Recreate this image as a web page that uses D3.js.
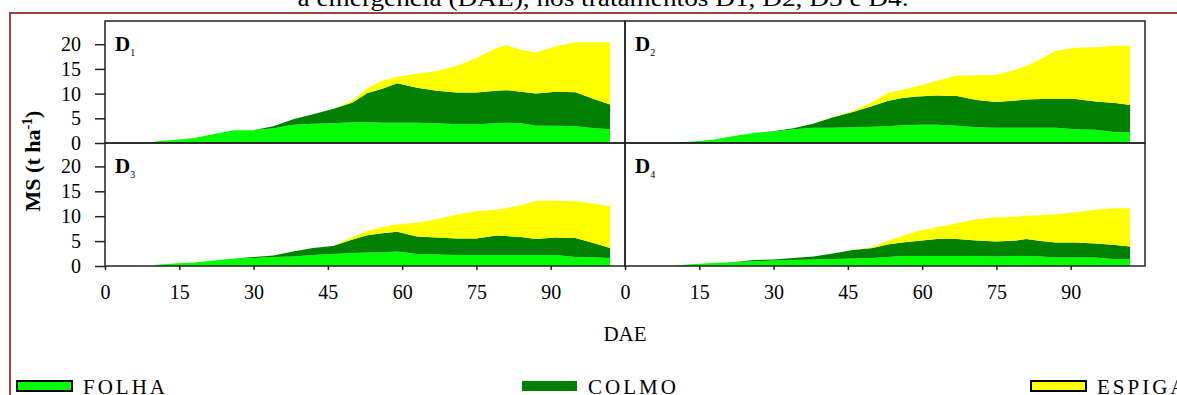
<!DOCTYPE html>
<html>
<head>
<meta charset="utf-8">
<script src="https://cdn.jsdelivr.net/npm/d3@7"></script>
<style>
  body { margin: 0; background: #fff; }
  svg { display: block; }
</style>
</head>
<body>
<div id="chart"></div>
<script>
// days after emergence (DAE) at which the curves were read
const dae = [10, 14, 18, 22, 26, 30, 34, 38, 42, 46, 50, 53, 56, 59, 63, 67, 71, 75, 79, 81, 84, 87, 91, 95, 99, 102];

// dry matter, t/ha, per plant part
const folhaD1  = [0.3,0.6,1.0,1.8,2.6,2.6,3.0,3.7,3.9,4.0,4.2,4.2,4.1,4.1,4.1,4.0,3.8,3.8,4.0,4.1,4.0,3.5,3.5,3.4,3.0,2.8];
const colmoD1  = [0,0,0,0,0,0,0.4,1.1,1.9,2.9,4.0,5.9,6.9,8.0,7.1,6.6,6.4,6.4,6.6,6.6,6.4,6.5,6.9,6.9,5.8,5.0];
const espigaD1 = [0,0,0,0,0,0,0,0,0,0,0.4,1.0,1.6,1.3,2.8,4.0,5.4,7.0,8.6,9.1,8.5,8.3,9.2,10.1,11.6,12.6];

const folhaD2  = [0.1,0.3,0.7,1.4,2.0,2.3,2.8,3.1,3.1,3.2,3.3,3.4,3.6,3.7,3.7,3.5,3.2,3.1,3.1,3.1,3.1,3.1,2.8,2.7,2.2,2.2];
const colmoD2  = [0,0,0,0,0,0.1,0.2,0.8,2.1,3.1,4.2,5.1,5.5,5.7,5.9,6.0,5.5,5.2,5.5,5.7,5.8,5.8,6.1,5.7,5.9,5.5];
const espigaD2 = [0,0,0,0,0,0,0,0,0.1,0.2,0.8,1.6,1.7,2.1,3.0,4.1,5.0,5.5,6.3,6.8,8.1,9.8,10.4,11.0,11.6,12.0];

const folhaD3  = [0.2,0.5,0.7,1.1,1.5,1.6,1.8,1.9,2.2,2.4,2.6,2.7,2.7,2.9,2.4,2.3,2.2,2.2,2.2,2.2,2.2,2.2,2.2,1.8,1.7,1.6];
const colmoD3  = [0,0,0,0,0,0.2,0.3,1.0,1.4,1.6,2.7,3.5,3.9,4.0,3.5,3.4,3.3,3.3,3.9,3.8,3.6,3.2,3.5,3.8,2.8,2.0];
const espigaD3 = [0,0,0,0,0,0,0,0,0,0,0.5,0.9,1.2,1.5,2.8,3.7,4.8,5.5,5.2,5.6,6.4,7.7,7.4,7.4,8.0,8.4];

const folhaD4  = [0.1,0.4,0.6,0.8,0.95,1.1,1.2,1.3,1.4,1.5,1.6,1.8,2.0,2.0,2.0,2.0,2.0,1.9,2.0,2.0,1.9,1.7,1.7,1.7,1.35,1.35];
const colmoD4  = [0,0,0,0,0.25,0.2,0.4,0.6,1.1,1.7,2.0,2.5,2.7,3.0,3.4,3.4,3.1,3.0,3.1,3.4,3.1,3.0,3.0,2.8,2.85,2.55];
const espigaD4 = [0,0,0,0,0,0,0,0,0,0,0.2,0.7,1.3,2.0,2.4,3.2,4.3,4.9,4.8,4.7,5.2,5.7,6.1,6.8,7.4,7.7];

const partKeys = ["folha", "colmo", "espiga"];
const partNames = ["FOLHA", "COLMO", "ESPIGA"];
const partColors = ["#00ff00", "#008000", "#ffff00"];
const xTicks = [0, 15, 30, 45, 60, 75, 90];
const yTicks = [0, 5, 10, 15, 20];
const caption = "à emergência (DAE), nos tratamentos D1, D2, D3 e D4.";

const panels = [
  { sub: "1", folha: folhaD1, colmo: colmoD1, espiga: espigaD1, col: 0, row: 0 },
  { sub: "2", folha: folhaD2, colmo: colmoD2, espiga: espigaD2, col: 1, row: 0 },
  { sub: "3", folha: folhaD3, colmo: colmoD3, espiga: espigaD3, col: 0, row: 1 },
  { sub: "4", folha: folhaD4, colmo: colmoD4, espiga: espigaD4, col: 1, row: 1 }
];

const width = 1177, height = 395;
const left = 105, pw = 520;
const rowTop = [21, 143], rowH = [122, 123];
const lineCol = "#222";
const serif = '"Liberation Serif", "Times New Roman", serif';

const svg = d3.select("#chart").append("svg")
  .attr("width", width)
  .attr("height", height)
  .style("font-family", serif);

// page bits: caption cut at the top and the red frame
svg.append("text")
  .attr("x", 603).attr("y", 6)
  .attr("text-anchor", "middle")
  .attr("textLength", 611)
  .attr("lengthAdjust", "spacingAndGlyphs")
  .style("font-family", serif)
  .style("font-size", "24px")
  .text(caption);

svg.append("path")
  .attr("d", `M10,${height} V13 H${width}`)
  .attr("fill", "none")
  .attr("stroke", "#a0403f")
  .attr("stroke-width", 2);

const x = d3.scaleLinear().domain([0, 105]).range([0, pw]);
const stack = d3.stack().keys(partKeys);

panels.forEach(p => {
  const h = rowH[p.row];
  const y = d3.scaleLinear().domain([0, 24.7]).range([h, 0]);
  const g = svg.append("g")
    .attr("transform", `translate(${left + p.col * pw},${rowTop[p.row]})`);

  const table = dae.map((d, i) => ({ dae: d, folha: p.folha[i], colmo: p.colmo[i], espiga: p.espiga[i] }));
  const series = stack(table);

  const area = d3.area()
    .x(d => x(d.data.dae))
    .y0(d => y(d[0]))
    .y1(d => y(d[1]));

  g.selectAll("path.layer")
    .data(series)
    .enter()
    .append("path")
    .attr("class", "layer")
    .attr("fill", (d, i) => partColors[i])
    .attr("d", area);

  g.append("rect")
    .attr("width", pw).attr("height", h)
    .attr("fill", "none")
    .attr("stroke", lineCol)
    .attr("stroke-width", 1.5);

  // panel label D with subscript
  const lab = g.append("text")
    .attr("x", 10).attr("y", 30)
    .style("font-family", serif)
    .style("font-size", "21px")
    .style("font-weight", "bold");
  lab.append("tspan").text("D");
  lab.append("tspan")
    .attr("dy", 5)
    .style("font-size", "10px")
    .style("font-weight", "normal")
    .text(p.sub);

  if (p.col === 0) {
    const ay = g.append("g")
      .call(d3.axisLeft(y).tickValues(yTicks).tickSize(10).tickPadding(14));
    ay.select(".domain").remove();
    ay.selectAll("line").attr("stroke", lineCol).attr("stroke-width", 1.5);
    ay.selectAll("text")
      .style("font-family", serif)
      .style("font-size", "20px")
      .attr("fill", "#000");
  }

  if (p.row === 1) {
    const ax = g.append("g")
      .attr("transform", `translate(0,${h})`)
      .call(d3.axisBottom(x).tickValues(xTicks).tickSize(4).tickPadding(15));
    ax.select(".domain").remove();
    ax.selectAll("line").attr("stroke", lineCol).attr("stroke-width", 1.5);
    ax.selectAll("text")
      .style("font-family", serif)
      .style("font-size", "20px")
      .attr("fill", "#000");
  }
});

// axis titles
svg.append("text")
  .attr("x", left + pw).attr("y", 341)
  .attr("text-anchor", "middle")
  .style("font-family", serif)
  .style("font-size", "21px")
  .text("DAE");

const yt = svg.append("text")
  .attr("transform", "translate(40,161) rotate(-90)")
  .attr("text-anchor", "middle")
  .style("font-family", serif)
  .style("font-size", "22px")
  .style("font-weight", "bold");
yt.append("tspan").text("MS (t ha");
yt.append("tspan").attr("dy", -8).style("font-size", "14px").text("-1");
yt.append("tspan").attr("dy", 8).text(")");

// legend
const legX = [17, 522, 1031];
const leg = svg.selectAll("g.leg")
  .data(partNames)
  .enter()
  .append("g")
  .attr("class", "leg")
  .attr("transform", (d, i) => `translate(${legX[i]},381)`);

leg.append("rect")
  .attr("width", 55).attr("height", 10)
  .attr("fill", (d, i) => partColors[i])
  .attr("stroke", (d, i) => i === 1 ? "none" : "#000")
  .attr("stroke-width", 2);

leg.append("text")
  .attr("x", 66).attr("y", 13)
  .style("font-family", serif)
  .style("font-size", "21px")
  .style("letter-spacing", "3px")
  .text(d => d);
</script>
</body>
</html>
